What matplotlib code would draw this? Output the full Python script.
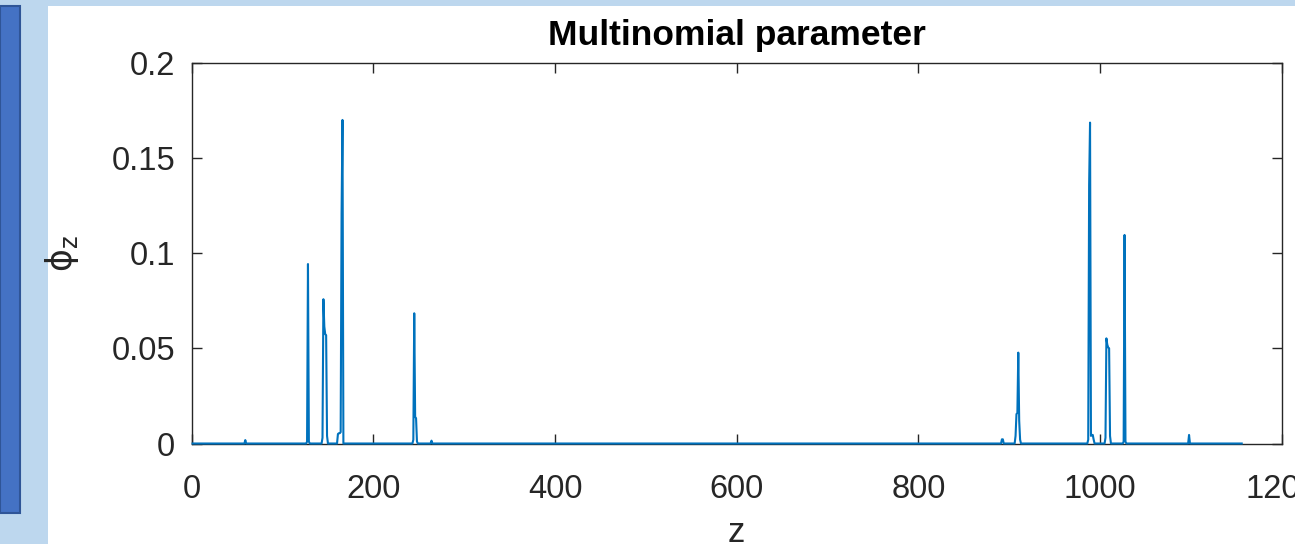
import numpy as np
import matplotlib
matplotlib.use('Agg')
import matplotlib.pyplot as plt
from matplotlib.patches import Rectangle

# number of topics (z runs 1..n_z), all other entries are zero
n_z = 1156

# non-zero entries of phi_z
z_nz = [59, 127, 128, 129,
        144, 145, 146, 147, 148, 149,
        161, 162, 163, 164, 165, 166,
        244, 245, 246, 247, 248, 264,
        892, 893, 907, 908, 909, 910, 911, 912,
        987, 988, 989, 990, 991, 992, 993,
        1006, 1007, 1008, 1009, 1010, 1011,
        1026, 1027, 1028, 1098]
phi_nz = [0.0018, 0.001, 0.0944, 0.001,
          0.003, 0.0759, 0.0615, 0.0575, 0.0570, 0.004,
          0.005, 0.0054, 0.0054, 0.006, 0.121, 0.1702,
          0.002, 0.0685, 0.014, 0.0133, 0.001, 0.0015,
          0.0022, 0.0022, 0.004, 0.0155, 0.016, 0.0478, 0.012, 0.002,
          0.002, 0.136, 0.1688, 0.004, 0.0045, 0.0045, 0.002,
          0.003, 0.0553, 0.052, 0.0505, 0.0501, 0.004,
          0.001, 0.1097, 0.001, 0.0045]

xticks = [0, 200, 400, 600, 800, 1000, 1200]
yticks = [0, 0.05, 0.1, 0.15, 0.2]
ytick_labels = ['0', '0.05', '0.1', '0.15', '0.2']

z = np.arange(1, n_z + 1)
phi = np.zeros(n_z)
phi[np.array(z_nz) - 1] = phi_nz

plt.rcParams['font.family'] = ['Liberation Sans', 'DejaVu Sans']
plt.rcParams['mathtext.fontset'] = 'dejavusans'

W, H = 1295, 544
fig = plt.figure(figsize=(W / 100, H / 100), dpi=100, facecolor='#BDD7EE')

# slide decoration: dark bar on the left and the white panel
fig.patches.append(Rectangle((0, 31 / H), 20 / W, 507 / H, transform=fig.transFigure,
                             facecolor='#4472C4', edgecolor='#2F5597', lw=1.5, zorder=-2))
fig.patches.append(Rectangle((48 / W, 0), 1 - 48 / W, 538 / H, transform=fig.transFigure,
                             facecolor='white', edgecolor='none', zorder=-2))

ax = fig.add_axes([191.7 / W, 100.5 / H, 1090 / W, 380.2 / H])
ax.set_facecolor('white')
ax.plot(z, phi, color='#0072BD', lw=1.5, clip_on=False, zorder=3)

ax.set_xlim(0, 1200)
ax.set_ylim(0, 0.2)
ax.set_xticks(xticks)
ax.set_yticks(yticks)
ax.set_yticklabels(ytick_labels)

dark = '#262626'
for s in ax.spines.values():
    s.set_color(dark)
    s.set_linewidth(1.0)
ax.tick_params(axis='both', direction='in', length=7, width=1.0, color=dark,
               labelcolor=dark, labelsize=23.5, top=True, right=True)
ax.tick_params(axis='x', pad=22)
ax.tick_params(axis='y', pad=12)

ax.set_title('Multinomial parameter', fontsize=25.5, fontweight='bold', pad=13)
ax.set_xlabel('z', fontsize=25, color=dark, labelpad=8)
ax.set_ylabel(r'$\mathrm{\phi}_\mathrm{z}$', fontsize=25, color=dark, labelpad=22)

fig.savefig('out.png', dpi=100, facecolor=fig.get_facecolor())
